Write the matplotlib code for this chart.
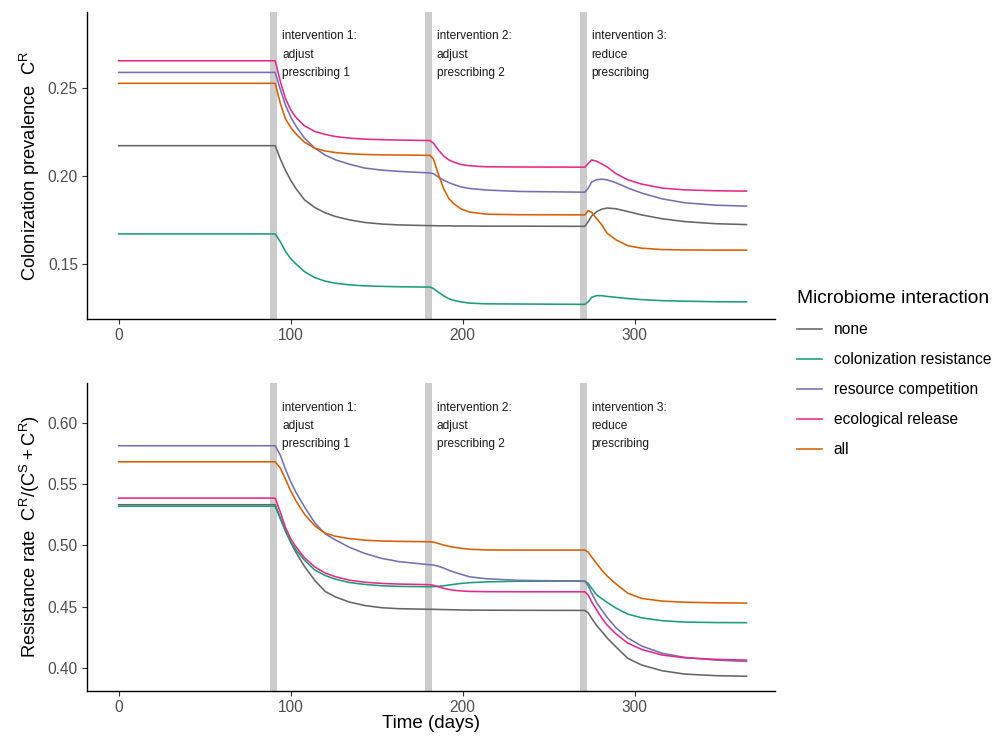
import matplotlib
matplotlib.use("Agg")
import matplotlib.pyplot as plt

plt.rcParams['font.family'] = ['Liberation Sans', 'DejaVu Sans']

# time grid (days) shared by every series
days = [0, 91, 94, 97, 100, 103, 108, 114, 120, 126, 134, 143, 153, 163, 181,
        183, 186, 189, 192, 195, 199, 204, 214, 233, 271,
        273, 275, 278, 281, 284, 289, 296, 304, 316, 329, 347, 365]

labels = ["none", "colonization resistance", "resource competition",
          "ecological release", "all"]
colors = ["#666666", "#1B9E77", "#7570B3", "#E7298A", "#D95F02"]

# colonization prevalence C^R
prev_none = [.2171, .2171, .2095, .2030, .1975, .1928, .1864, .1820, .1790, .1769, .1750, .1735, .1726, .1721, .1717,
             .1717, .1716, .1716, .1716, .1715, .1715, .1715, .1714, .1714, .1713,
             .1740, .1772, .1797, .1811, .1817, .1813, .1797, .1778, .1756, .1740, .1728, .1723]
prev_colres = [.1670, .1670, .1625, .1570, .1530, .1500, .1456, .1422, .1402, .1390, .1381, .1375, .1372, .1370, .1368,
               .1360, .1338, .1318, .1302, .1292, .1284, .1277, .1273, .1272, .1270,
               .1285, .1310, .1320, .1319, .1315, .1310, .1303, .1297, .1291, .1288, .1285, .1284]
prev_rescomp = [.2587, .2587, .2490, .2400, .2335, .2283, .2214, .2157, .2118, .2091, .2066, .2044, .2032, .2025, .2016,
                .2012, .1992, .1975, .1961, .1950, .1937, .1928, .1919, .1911, .1907,
                .1930, .1965, .1978, .1981, .1977, .1961, .1931, .1902, .1869, .1847, .1833, .1828]
prev_ecorel = [.2653, .2653, .2535, .2438, .2375, .2332, .2284, .2252, .2235, .2223, .2214, .2208, .2205, .2203, .2200,
               .2185, .2145, .2112, .2090, .2077, .2064, .2057, .2051, .2050, .2049,
               .2070, .2090, .2082, .2067, .2050, .2013, .1977, .1953, .1930, .1920, .1915, .1913]
prev_all = [.2525, .2525, .2410, .2323, .2275, .2238, .2191, .2157, .2141, .2132, .2125, .2121, .2119, .2118, .2116,
            .2095, .2005, .1925, .1870, .1840, .1812, .1794, .1782, .1779, .1778,
            .1803, .1792, .1755, .1720, .1674, .1637, .1603, .1589, .1581, .1579, .1578, .1578]

# resistance rate C^R/(C^S+C^R)
rate_none = [.5332, .5332, .5225, .5120, .5025, .4945, .4830, .4715, .4625, .4580, .4539, .4510, .4492, .4484, .4479,
             .4479, .4478, .4477, .4476, .4475, .4474, .4473, .4472, .4471, .4470,
             .4450, .4405, .4345, .4296, .4245, .4174, .4079, .4025, .3978, .3951, .3938, .3933]
rate_colres = [.5320, .5320, .5215, .5115, .5030, .4965, .4880, .4800, .4755, .4725, .4698, .4682, .4671, .4666, .4663,
               .4664, .4667, .4671, .4677, .4683, .4690, .4696, .4703, .4708, .4709,
               .4690, .4650, .4595, .4565, .4535, .4490, .4440, .4410, .4386, .4375, .4371, .4370]
rate_rescomp = [.5813, .5813, .5735, .5620, .5520, .5435, .5315, .5185, .5095, .5045, .4986, .4935, .4894, .4868, .4842,
                .4840, .4830, .4815, .4797, .4782, .4765, .4744, .4728, .4715, .4709,
                .4670, .4610, .4530, .4470, .4413, .4330, .4245, .4180, .4120, .4087, .4065, .4054]
rate_ecorel = [.5386, .5386, .5270, .5145, .5055, .4990, .4900, .4825, .4775, .4745, .4717, .4700, .4690, .4685, .4680,
               .4675, .4662, .4650, .4641, .4634, .4629, .4625, .4623, .4622, .4622,
               .4595, .4540, .4470, .4405, .4350, .4280, .4203, .4152, .4106, .4084, .4071, .4065]
rate_all = [.5682, .5682, .5630, .5540, .5445, .5365, .5255, .5160, .5100, .5075, .5056, .5043, .5036, .5033, .5030,
            .5027, .5015, .5003, .4993, .4985, .4977, .4969, .4963, .4962, .4962,
            .4945, .4905, .4850, .4797, .4750, .4688, .4610, .4568, .4546, .4537, .4532, .4530]

interventions = [90, 180, 270]
notes = ["intervention 1:\nadjust\nprescribing 1",
         "intervention 2:\nadjust\nprescribing 2",
         "intervention 3:\nreduce\nprescribing"]

fig = plt.figure(figsize=(9.98, 7.36), dpi=100)
ax1 = fig.add_axes([0.0872, 0.5666, 0.6894, 0.4171])
ax2 = fig.add_axes([0.0872, 0.0615, 0.6894, 0.4180])


def style(ax, series, ylim, yticks):
    for t in interventions:
        ax.axvspan(t - 2, t + 2, color="#CCCCCC", lw=0, zorder=1)
    for vals, lab, col in zip(series, labels, colors):
        ax.plot(days, vals, color=col, lw=1.15, label=lab, zorder=2)
    for t, txt in zip(interventions, notes):
        ax.text(t + 5, 0.94, txt, transform=ax.get_xaxis_transform(), fontsize=8.6,
                color="#1A1A1A", va="top", ha="left", linespacing=1.7)
    ax.set_xlim(-18.4, 381.6)
    ax.set_ylim(*ylim)
    ax.set_xticks([0, 100, 200, 300])
    ax.set_yticks(yticks)
    for s in ["top", "right"]:
        ax.spines[s].set_visible(False)
    for s in ["left", "bottom"]:
        ax.spines[s].set_linewidth(1.0)
        ax.spines[s].set_color("#000000")
    ax.tick_params(direction="out", length=3.5, width=0.8, color="#333333",
                   labelsize=11.2, labelcolor="#4D4D4D", pad=3)


style(ax1, [prev_none, prev_colres, prev_rescomp, prev_ecorel, prev_all],
      (0.1187, 0.293), [0.15, 0.20, 0.25])
ax1.set_yticklabels(["0.15", "0.20", "0.25"])
ax1.set_ylabel(r"Colonization prevalence  $\mathregular{C^R}$", fontsize=13.2)

style(ax2, [rate_none, rate_colres, rate_rescomp, rate_ecorel, rate_all],
      (0.3815, 0.6324), [0.40, 0.45, 0.50, 0.55, 0.60])
ax2.set_yticklabels(["0.40", "0.45", "0.50", "0.55", "0.60"])
ax2.set_ylabel(r"Resistance rate  $\mathregular{C^R/(C^S+C^R)}$", fontsize=13.2)
ax2.set_xlabel("Time (days)", fontsize=13.5, labelpad=0)

handles, labs = ax1.get_legend_handles_labels()
fig.legend(handles, labs, title="Microbiome interaction", loc="upper left",
           bbox_to_anchor=(0.7986, 0.606), frameon=False, fontsize=11.2,
           title_fontsize=13.8, alignment="left", handlelength=1.6,
           labelspacing=0.97, handletextpad=0.77, borderpad=0, borderaxespad=0)

fig.savefig("out.png", dpi=100)
